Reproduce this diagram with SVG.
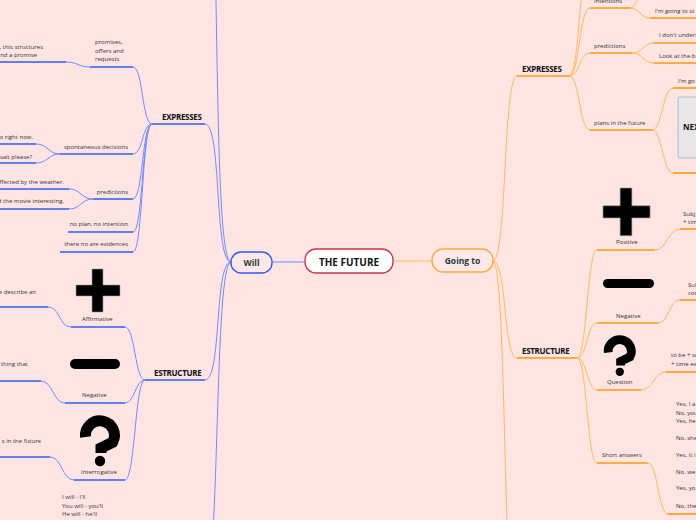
<svg xmlns="http://www.w3.org/2000/svg" width="696" height="520" viewBox="0 0 696 520">
<style>
text{font-family:"Open Sans","Noto Sans",sans-serif;fill:#333;font-size:6px}
.h{font-weight:bold;font-size:8px;fill:#111;letter-spacing:-0.3px}
.m{font-weight:bold;font-size:8.5px;fill:#1e3a3a}
.c{font-weight:bold;font-size:10px;fill:#111}
.e{text-anchor:end}
.bc{fill:none;stroke:#6f8cff;stroke-width:1}
.bu{fill:none;stroke:#2f5cf0;stroke-width:1.6}
.oc{fill:none;stroke:#ffbb55;stroke-width:1}
.ou{fill:none;stroke:#ff9a0a;stroke-width:1.6}
.ic{fill:#000;stroke:#999;stroke-width:0.6}
</style>
<defs>
<path id="plus" d="M16,0H27V16H44V27H27V43H16V27H0V16H16Z"/>
<g id="qm"><path d="M6.5,22A14.5,14.5 0 1 1 33.6,27.3L22,33V38" fill="none" stroke="#000" stroke-width="11"/><circle cx="21" cy="46" r="5.2" fill="#000"/></g>
</defs>
<rect width="696" height="520" fill="#ffe4e4"/>
<g id="connectors">
<path class="bc" d="M305,262H272"/>
<path class="oc" d="M393,261H432"/>
<path class="bc" d="M231,262C214,262 222,124 205,124"/>
<path class="bc" d="M231,262C211,262 222,-160 205,-160"/>
<path class="bc" d="M231,262C214,262 222,380 205,380"/>
<path class="bc" d="M231,262C214,262 220,580 205,580"/>
<path class="bu" d="M152,124H205"/>
<path class="bu" d="M145,380H205"/>
<path class="bc" d="M152,124C142,124 143,67 133,67"/>
<path class="bc" d="M152,124C142,124 143,154 133,154"/>
<path class="bc" d="M152,124C142,124 143,199 133,199"/>
<path class="bc" d="M152,124C142,124 143,232 133,232"/>
<path class="bc" d="M152,124C142,124 143,252 133,252"/>
<path class="bu" d="M90,67H133"/>
<path class="bu" d="M60,154H133"/>
<path class="bu" d="M93,199H133"/>
<path class="bu" d="M68,232H133"/>
<path class="bu" d="M60,252H133"/>
<path class="bc" d="M90,67C78,67 78,62 66,62"/>
<path class="bu" d="M0,62H66"/>
<path class="bc" d="M60,154C48,154 48,144 36,144"/>
<path class="bc" d="M60,154C48,154 48,163 36,163"/>
<path class="bu" d="M0,144H36"/>
<path class="bu" d="M0,163H36"/>
<path class="bc" d="M93,199C81,199 81,189 69,189"/>
<path class="bc" d="M93,199C81,199 81,209 69,209"/>
<path class="bu" d="M0,189H69"/>
<path class="bu" d="M0,209H69"/>
<path class="bc" d="M145,380C135,380 135,327 125,327"/>
<path class="bc" d="M145,380C135,380 135,403 125,403"/>
<path class="bc" d="M145,380C135,380 135,480 125,480"/>
<path class="bu" d="M71,327H125"/>
<path class="bu" d="M65,403H125"/>
<path class="bu" d="M74,480H125"/>
<path class="bc" d="M71,327C59,327 60,307 48,307"/>
<path class="bu" d="M0,307H48"/>
<path class="bc" d="M65,403C53,403 53,381 41,381"/>
<path class="bu" d="M0,381H41"/>
<path class="bc" d="M74,480C62,480 62,457 50,457"/>
<path class="bu" d="M0,457H50"/>
<path class="oc" d="M493,261C507,261 503,76 517,76"/>
<path class="oc" d="M493,261C507,261 503,358 517,358"/>
<path class="oc" d="M493,261C507,261 503,640 517,640"/>
<path class="ou" d="M517,76H569"/>
<path class="ou" d="M517,358H577"/>
<path class="oc" d="M569,76C580,76 579,-40 590,-40"/>
<path class="oc" d="M569,76C580,76 579,8 590,8"/>
<path class="oc" d="M569,76C580,76 579,53 590,53"/>
<path class="oc" d="M569,76C580,76 579,130 590,130"/>
<path class="ou" d="M590,8H630"/>
<path class="ou" d="M590,53H632"/>
<path class="ou" d="M590,130H652"/>
<path class="oc" d="M630,8C640,8 640,-25 650,-25"/>
<path class="oc" d="M630,8C640,8 640,18 650,18"/>
<path class="ou" d="M650,18H696"/>
<path class="oc" d="M632,53C643,53 643,43 654,43"/>
<path class="oc" d="M632,53C643,53 643,63 654,63"/>
<path class="ou" d="M654,43H696"/>
<path class="ou" d="M654,63H696"/>
<path class="oc" d="M652,130C662,130 663,88 673,88"/>
<path class="oc" d="M652,130C662,130 663,173 673,173"/>
<path class="ou" d="M673,88H696"/>
<path class="ou" d="M673,173H696"/>
<path class="oc" d="M577,358C587,358 587,250 597,250"/>
<path class="oc" d="M577,358C587,358 587,323 597,323"/>
<path class="oc" d="M577,358C587,358 587,390 597,390"/>
<path class="oc" d="M577,358C587,358 587,463 597,463"/>
<path class="ou" d="M597,250H655"/>
<path class="ou" d="M597,323H658"/>
<path class="ou" d="M597,390H641"/>
<path class="ou" d="M597,463H648"/>
<path class="oc" d="M655,250C667,250 668,229 680,229"/>
<path class="ou" d="M680,229H696"/>
<path class="oc" d="M658,323C669,323 669,300 680,300"/>
<path class="ou" d="M680,300H696"/>
<path class="oc" d="M641,390C653,390 654,372 666,372"/>
<path class="ou" d="M666,372H696"/>
<path class="oc" d="M648,463C658,463 658,514 668,514"/>
<path class="ou" d="M668,514H696"/>
</g>
<g id="center"><rect x="305" y="249" width="88" height="24" rx="11" fill="#fff" stroke="#cc3347" stroke-width="1.3"/><text class="c" x="349" y="265.5" text-anchor="middle">THE FUTURE</text></g>
<g id="will"><rect x="231" y="252" width="41" height="21" rx="10" fill="#ffe8e8" stroke="#3358f0" stroke-width="1.4"/><text class="m" x="251.5" y="265.5" text-anchor="middle">Will</text></g>
<g id="goingto"><rect x="432" y="249" width="61" height="23" rx="11" fill="#ffe8e8" stroke="#ffaa3a" stroke-width="1.4"/><text class="m" x="462.5" y="264" text-anchor="middle">Going to</text></g>
<g id="l-expresses"><text class="h" x="162" y="119.5">EXPRESSES</text></g>
<g id="l-estructure"><text class="h" x="154" y="375.5">ESTRUCTURE</text></g>
<g id="l-promises"><text x="95" y="44">promises,</text><text x="95" y="53">offers and</text><text x="95" y="61">requests</text></g>
<g id="l-promises-c"><text class="e" x="43" y="49">, this structures</text><text class="e" x="37" y="57">nd a promise</text></g>
<g id="l-spont"><text class="e" x="128" y="149">spontaneous decisions</text></g>
<g id="l-spont-1"><text class="e" x="33" y="139">o right now.</text></g>
<g id="l-spont-2"><text class="e" x="32" y="158.5">salt please?</text></g>
<g id="l-pred"><text class="e" x="128" y="193.5">predictions</text></g>
<g id="l-pred-1"><text class="e" x="64" y="183.5">ffected by the weather.</text></g>
<g id="l-pred-2"><text class="e" x="64" y="203">d the movie interesting.</text></g>
<g id="l-noplan"><text class="e" x="128" y="226">no plan, no intention</text></g>
<g id="l-evid"><text class="e" x="128" y="246">there no are evidences</text></g>
<g id="l-affirm"><use href="#plus" class="ic" x="76" y="269"/><text x="82" y="321">Affirmative</text></g>
<g id="l-affirm-c"><text class="e" x="36" y="293.5">e describe an</text></g>
<g id="l-neg"><rect x="70" y="359" width="50" height="10" rx="5" fill="#000"/><text x="82" y="397">Negative</text></g>
<g id="l-neg-c"><text class="e" x="28" y="366">thing that</text></g>
<g id="l-interr"><use href="#qm" transform="translate(79,415)"/><text x="81" y="473.5">Interrogative</text></g>
<g id="l-interr-c"><text class="e" x="41" y="443">s in the future</text></g>
<g id="l-iwill"><text x="62" y="499">I will - I'll</text><text x="62" y="508">You will - you'll</text><text x="62" y="516">He will - he'll</text></g>
<g id="r-expresses"><text class="h" x="522" y="71.5">EXPRESSES</text></g>
<g id="r-estructure"><text class="h" x="522" y="353.5">ESTRUCTURE</text></g>
<g id="r-intentions"><text x="594" y="3">intentions</text></g>
<g id="r-int-1"><text x="655" y="12.5">I'm going to st</text></g>
<g id="r-pred"><text x="594" y="48">predictions</text></g>
<g id="r-pred-1"><text x="659" y="37">I don't unders</text></g>
<g id="r-pred-2"><text x="659" y="58">Look at the br</text></g>
<g id="r-plans"><text x="594" y="125">plans in the future</text></g>
<g id="r-plans-1"><text x="678" y="82.5">I'm go</text></g>
<g id="r-next"><rect x="678" y="97" width="30" height="61" rx="2" fill="#e8e6e6" stroke="#8eb2da" stroke-width="0.8"/><text class="h" x="683" y="130" style="letter-spacing:0">NEX</text></g>
<g id="r-pos"><use href="#plus" class="ic" transform="translate(603,188) scale(1.07,1.11)"/><text x="616" y="243.5">Positive</text></g>
<g id="r-pos-c"><text x="683" y="215.5">Subj</text><text x="683" y="223.5">+ tim</text></g>
<g id="r-neg"><rect x="603" y="279" width="51" height="9" rx="4.5" fill="#000"/><text x="616" y="317.5">Negative</text></g>
<g id="r-neg-c"><text x="688" y="286.5">Sul</text><text x="688" y="295">cor</text></g>
<g id="r-quest"><use href="#qm" transform="translate(603,335) scale(0.8)"/><text x="607" y="384.3">Question</text></g>
<g id="r-quest-c"><text x="671" y="356.7">to be + su</text><text x="671" y="366">+ time ex</text></g>
<g id="r-short"><text x="602" y="457.3">Short answers</text></g>
<g id="r-short-c"><text x="676" y="406">Yes, I a</text><text x="676" y="415">No, you</text><text x="676" y="423.3">Yes, he</text><text x="676" y="440">No, she</text><text x="676" y="456.7">Yes, it i</text><text x="676" y="474">No, we</text><text x="676" y="490">Yes, yo</text><text x="676" y="507.7">No, the</text></g>
</svg>
